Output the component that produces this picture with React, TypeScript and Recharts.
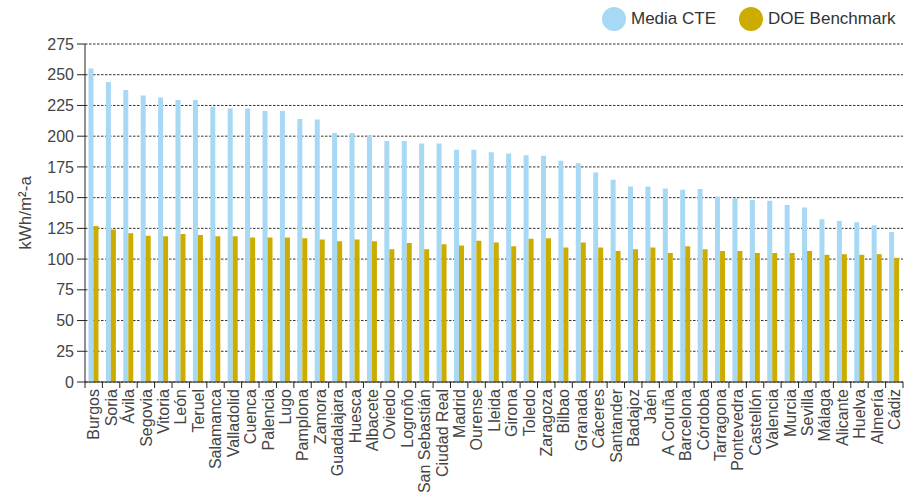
import { BarChart, Bar, XAxis, YAxis, CartesianGrid, Legend, Label } from "recharts";

const cities = [
  "Burgos", "Soria", "Ávila", "Segovia", "Vitoria", "León", "Teruel", "Salamanca",
  "Valladolid", "Cuenca", "Palencia", "Lugo", "Pamplona", "Zamora", "Guadalajara",
  "Huesca", "Albacete", "Oviedo", "Logroño", "San Sebastián", "Ciudad Real", "Madrid",
  "Ourense", "Lleida", "Girona", "Toledo", "Zaragoza", "Bilbao", "Granada", "Cáceres",
  "Santander", "Badajoz", "Jaén", "A Coruña", "Barcelona", "Córdoba", "Tarragona",
  "Pontevedra", "Castellón", "Valencia", "Murcia", "Sevilla", "Málaga", "Alicante",
  "Huelva", "Almería", "Cádiz",
];

const mediaCte = [
  255, 244, 237.5, 233, 231.5, 229.5, 229.5, 224, 222.5, 222.5, 220.5, 220.5, 214, 213.5,
  202.5, 202.5, 200.5, 196, 196, 194, 194, 189, 189, 187, 186, 184.5, 184, 180, 178, 170.5,
  164.5, 159, 159, 157.5, 156.5, 157, 151, 149.5, 148, 147.5, 144, 142, 132.5, 131, 130,
  127.5, 122,
];

const doeBenchmark = [
  127, 124, 121, 119, 118.5, 120.5, 119.5, 118.5, 118.5, 117.5, 117.5, 117.5, 117, 116,
  114.5, 116, 114.5, 108, 113, 108, 112, 111, 115, 113.5, 110.5, 116.5, 117, 109.5, 113.5,
  109.5, 106.5, 108, 109.5, 105, 110.5, 108, 106.5, 106.5, 105, 105, 105, 106.5, 103.5,
  104, 103.5, 104, 101,
];

const yTicks = [0, 25, 50, 75, 100, 125, 150, 175, 200, 225, 250, 275];

const data = cities.map((city, i) => ({
  city,
  media: mediaCte[i],
  doe: doeBenchmark[i],
}));

const BLUE = "#a7d8f4";
const GOLD = "#cdac00";
const FONT = "'Liberation Sans', Arial, sans-serif";

const W = 905;
const H = 492;
const PLOT_LEFT = 85;
const PLOT_RIGHT = 903;
const BAND = (PLOT_RIGHT - PLOT_LEFT) / cities.length;

function CityTick(props: any) {
  const { x, y, payload, index } = props;
  const axisY = y - 8;
  const isLast = index === cities.length - 1;
  return (
    <g>
      <line x1={x - BAND / 2} x2={x - BAND / 2} y1={axisY} y2={axisY + 6} stroke="#222" />
      {isLast && <line x1={x + BAND / 2} x2={x + BAND / 2} y1={axisY} y2={axisY + 6} stroke="#222" />}
      <text
        transform={`translate(${x},${y - 1}) rotate(-90)`}
        textAnchor="end"
        dy="0.36em"
        fontSize={16}
        fill="#444"
        fontFamily={FONT}
      >
        {payload.value}
      </text>
    </g>
  );
}

function YTitle(props: any) {
  const vb = props.viewBox || { y: 44, height: 338 };
  const cy = vb.y + vb.height / 2;
  return (
    <text
      transform={`translate(31,${cy}) rotate(-90)`}
      textAnchor="middle"
      fontSize={17}
      fill="#444"
      fontFamily={FONT}
    >
      kWh/m²-a
    </text>
  );
}

function LegendBox() {
  const items = [
    { name: "Media CTE", color: BLUE },
    { name: "DOE Benchmark", color: GOLD },
  ];
  return (
    <div style={{ display: "flex", alignItems: "center", fontFamily: FONT, fontSize: 17, color: "#333" }}>
      {items.map((it) => (
        <div key={it.name} style={{ display: "flex", alignItems: "center", marginRight: 23 }}>
          <span
            style={{
              width: 24,
              height: 24,
              borderRadius: 12,
              background: it.color,
              display: "inline-block",
              marginRight: 5,
            }}
          />
          <span>{it.name}</span>
        </div>
      ))}
    </div>
  );
}

export default function App() {
  return (
    <div style={{ position: "absolute", left: 0, top: 0, width: W, height: H, background: "#fff" }}>
      <BarChart
        width={W}
        height={H}
        data={data}
        margin={{ top: 44, right: W - PLOT_RIGHT, left: 0, bottom: 0 }}
        barCategoryGap="20%"
        barGap={0}
      >
        <CartesianGrid vertical={false} stroke="#333" strokeDasharray="2.5 1.5" />
        <XAxis
          dataKey="city"
          interval={0}
          height={110}
          tickLine={false}
          axisLine={{ stroke: "#222" }}
          tick={<CityTick />}
        />
        <YAxis
          width={PLOT_LEFT}
          domain={[0, 275]}
          ticks={yTicks}
          interval={0}
          tickSize={8}
          tickMargin={3}
          axisLine={{ stroke: "#222" }}
          tickLine={{ stroke: "#222" }}
          tick={{ fontSize: 16, fill: "#444", fontFamily: FONT }}
        >
          <Label content={<YTitle />} />
        </YAxis>
        <Legend
          layout="vertical"
          verticalAlign="middle"
          align="center"
          wrapperStyle={{ top: 7, left: 602, width: 320 }}
          content={() => <LegendBox />}
        />
        <Bar dataKey="media" name="Media CTE" fill={BLUE} isAnimationActive={false} />
        <Bar dataKey="doe" name="DOE Benchmark" fill={GOLD} isAnimationActive={false} />
      </BarChart>
    </div>
  );
}
